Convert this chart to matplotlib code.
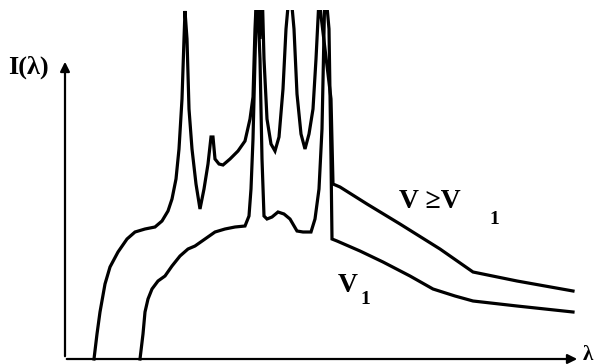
import numpy as np
import matplotlib.pyplot as plt

# X-ray spectrum sketch: continuous spectrum for two tube voltages

# upper curve (V >= V1), wavelength vs intensity (arbitrary units)
lam_high = [94, 97, 100, 105, 110, 118, 127, 135, 145, 155, 162, 168, 172, 176, 179,
            182, 184, 185, 187, 189, 192, 196, 200, 204, 208, 211, 213, 215, 219, 223,
            230, 238, 245, 250, 253, 255, 257, 260, 262, 264, 267, 271, 275, 279, 283,
            286, 290, 294, 297, 301, 305, 309, 313, 316, 319, 324, 329, 331, 333, 340,
            367, 400, 440, 473, 517, 573]
int_high = [0, 25, 47, 75, 92, 107, 120, 127, 130, 132, 138, 148, 160, 180, 210,
            260, 320, 348, 320, 250, 210, 175, 150, 170, 195, 222, 222, 200, 195, 194,
            200, 208, 218, 240, 262, 330, 375, 320, 375, 300, 240, 215, 208, 222, 270,
            330, 375, 330, 265, 225, 210, 225, 250, 300, 360, 380, 360, 260, 175, 172,
            155, 135, 110, 87, 78, 68]

# lower curve (V1)
lam_low = [140, 143, 145, 148, 152, 158, 165, 172, 180, 188, 195, 205, 215, 225, 235,
           245, 249, 251, 253, 255, 257, 260, 262, 264, 267, 272, 278, 284, 290, 297,
           303, 311, 315, 319, 322, 325, 329, 331, 332, 337, 360, 383, 410, 433, 455,
           473, 517, 545, 573]
int_low = [0, 25, 47, 60, 70, 78, 83, 93, 103, 110, 113, 120, 127, 130, 132,
           133, 143, 170, 220, 300, 375, 300, 200, 143, 140, 142, 147, 145, 140, 128,
           127, 127, 140, 170, 230, 375, 330, 200, 120, 118, 108, 97, 83, 70, 63,
           58, 53, 50, 47]

fig = plt.figure(figsize=(5.95, 3.64), dpi=100)
# top of the axes sits a little below the figure edge, peaks get cut there
ax = fig.add_axes([0, 0, 1, 354 / 364])
ax.set_xlim(0, 595)
ax.set_ylim(-5, 349)
ax.axis('off')

ax.plot(lam_high, int_high, color='black', lw=2.3, solid_joinstyle='miter')
ax.plot(lam_low, int_low, color='black', lw=2.3, solid_joinstyle='miter')

# axes with arrows
arrow = dict(arrowstyle='-|>', color='black', lw=1.6, mutation_scale=14)
ax.annotate('', xy=(65, 300), xytext=(65, 0), arrowprops=arrow)
ax.annotate('', xy=(580, 0), xytext=(64, 0), arrowprops=arrow)

font = dict(family='Liberation Serif', weight='bold', color='black')
ax.text(8, 292, 'I(λ)', fontsize=19, va='center', ha='left', **font)
ax.text(593, 4, 'λ', fontsize=15, va='center', ha='right', **font)
ax.text(399, 157, 'V ≥V', fontsize=20, va='center', ha='left', **font)
ax.text(489, 140, '1', fontsize=14, va='center', ha='left', **font)
ax.text(338, 73, 'V', fontsize=20, va='center', ha='left', **font)
ax.text(360, 60, '1', fontsize=14, va='center', ha='left', **font)

plt.savefig('out.png', dpi=100)
